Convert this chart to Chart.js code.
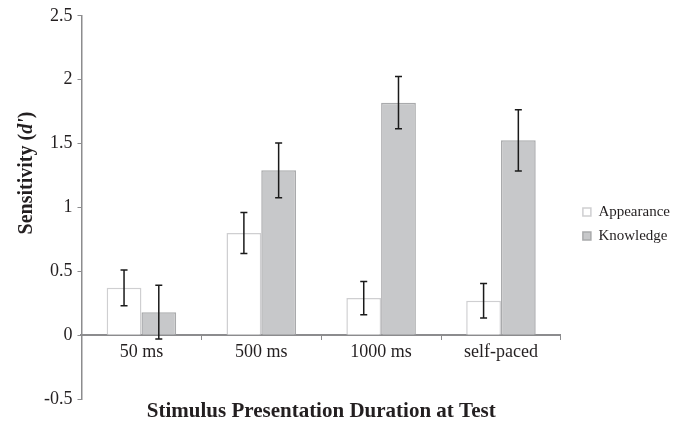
<!DOCTYPE html>
<html>
<head>
<meta charset="utf-8">
<script src="https://cdn.jsdelivr.net/npm/chart.js@4"></script>
<style>
  html, body { margin: 0; padding: 0; background: #ffffff; }
  #wrap { width: 689px; height: 423px; }
</style>
</head>
<body>
<div id="wrap"><canvas id="c" width="689" height="423"></canvas></div>
<script>
const categories = ['50 ms', '500 ms', '1000 ms', 'self-paced'];
const appearance = [0.37, 0.80, 0.29, 0.27];
const appearanceErr = [0.14, 0.16, 0.13, 0.135];
const knowledge = [0.18, 1.29, 1.82, 1.525];
const knowledgeErr = [0.21, 0.215, 0.205, 0.24];
const yTicks = [-0.5, 0, 0.5, 1, 1.5, 2, 2.5];
const xTitle = 'Stimulus Presentation Duration at Test';
const yTitleParts = [['Sensitivity (', false], ["d'", true], [')', false]];

const SERIF = '"Liberation Serif", "Times New Roman", serif';
const TEXT = '#231f20';
const AXIS = '#8c8c8e';

const errors = [appearanceErr, knowledgeErr];

const errorBarPlugin = {
  id: 'errorBars',
  afterDatasetsDraw(chart) {
    const ctx = chart.ctx;
    const y = chart.scales.y;
    ctx.save();
    ctx.strokeStyle = '#1a1a1a';
    ctx.lineWidth = 1.5;
    chart.data.datasets.forEach((ds, di) => {
      const meta = chart.getDatasetMeta(di);
      meta.data.forEach((bar, i) => {
        const v = ds.data[i];
        const e = errors[di][i];
        const x = bar.x;
        const yt = y.getPixelForValue(v + e);
        const yb = y.getPixelForValue(v - e);
        const cap = 3.5;
        ctx.beginPath();
        ctx.moveTo(x, yt); ctx.lineTo(x, yb);
        ctx.moveTo(x - cap, yt); ctx.lineTo(x + cap, yt);
        ctx.moveTo(x - cap, yb); ctx.lineTo(x + cap, yb);
        ctx.stroke();
      });
    });
    ctx.restore();
  }
};

const yTitlePlugin = {
  id: 'yTitle',
  afterDraw(chart) {
    const ctx = chart.ctx;
    ctx.save();
    ctx.translate(27, 173);
    ctx.rotate(-Math.PI / 2);
    ctx.fillStyle = TEXT;
    ctx.textBaseline = 'middle';
    const fonts = yTitleParts.map(p => (p[1] ? 'italic bold 20px ' : 'bold 20px ') + SERIF);
    let total = 0;
    const widths = yTitleParts.map((p, i) => { ctx.font = fonts[i]; const w = ctx.measureText(p[0]).width; total += w; return w; });
    let x = -total / 2;
    yTitleParts.forEach((p, i) => {
      ctx.font = fonts[i];
      ctx.textAlign = 'left';
      ctx.fillText(p[0], x, 0);
      x += widths[i];
    });
    ctx.restore();
  }
};

const legendShiftPlugin = {
  id: 'legendShift',
  afterLayout(chart) {
    const lg = chart.legend;
    if (!lg) return;
    const dx = 13, dy = 5;
    lg.left += dx; lg.right += dx;
    lg.top += dy; lg.bottom += dy;
  }
};

new Chart(document.getElementById('c'), {
  type: 'bar',
  data: {
    labels: categories,
    datasets: [
      {
        label: 'Appearance',
        data: appearance,
        backgroundColor: '#ffffff',
        borderColor: '#cfcfd1',
        borderWidth: 1.5,
        borderSkipped: 'start'
      },
      {
        label: 'Knowledge',
        data: knowledge,
        backgroundColor: '#c7c8ca',
        borderColor: '#a9aaac',
        borderWidth: 1.5,
        borderSkipped: 'start'
      }
    ]
  },
  options: {
    responsive: false,
    animation: false,
    devicePixelRatio: 1,
    layout: { padding: { left: 39, top: 15, right: 22, bottom: 0 } },
    datasets: { bar: { categoryPercentage: 0.58, barPercentage: 1.0 } },
    scales: {
      x: {
        position: { y: 0 },
        offset: true,
        grid: { display: true, drawOnChartArea: false, drawTicks: true, tickLength: 4, color: AXIS, lineWidth: 1, offset: true },
        border: { display: true, color: AXIS, width: 2 },
        ticks: { color: TEXT, font: { family: SERIF, size: 18 }, padding: 2 }
      },
      y: {
        min: -0.5,
        max: 2.5,
        afterBuildTicks(scale) { scale.ticks = yTicks.map(v => ({ value: v })); },
        grid: { display: true, drawOnChartArea: false, drawTicks: true, tickLength: 4, color: AXIS },
        border: { display: true, color: AXIS, width: 1.5 },
        ticks: { color: TEXT, font: { family: SERIF, size: 18 }, padding: 5, callback: v => String(v) }
      }
    },
    plugins: {
      legend: {
        display: true,
        position: 'right',
        align: 'center',
        labels: { color: TEXT, font: { family: SERIF, size: 15 }, boxWidth: 8, boxHeight: 8, padding: 9 }
      },
      title: {
        display: true,
        position: 'bottom',
        fullSize: false,
        text: xTitle,
        color: TEXT,
        font: { family: SERIF, size: 21, weight: 'bold', lineHeight: 1.0 },
        padding: { top: 2, bottom: 1 }
      },
      tooltip: { enabled: false }
    }
  },
  plugins: [errorBarPlugin, yTitlePlugin, legendShiftPlugin]
});
</script>
</body>
</html>
